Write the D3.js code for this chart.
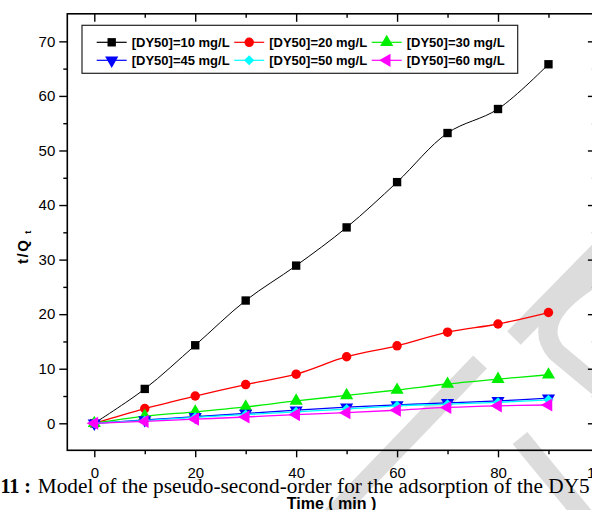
<!DOCTYPE html>
<html>
<head>
<meta charset="utf-8">
<script src="https://cdn.jsdelivr.net/npm/d3@7.8.5/dist/d3.min.js"></script>
<style>
  body { margin: 0; background: #fff; }
  #chart { width: 592px; height: 510px; overflow: hidden; }
  svg { display: block; }
</style>
</head>
<body>
<div id="chart"></div>
<script>
// time (min)
const times = [0, 10, 20, 30, 40, 50, 60, 70, 80, 90];
// t/Qt for each initial dye concentration
const c10 = [0, 6.3, 14.3, 22.5, 28.9, 35.9, 44.2, 53.2, 57.6, 65.8];
const c20 = [0, 2.7, 5.0, 7.1, 9.0, 12.2, 14.2, 16.7, 18.2, 20.3];
const c30 = [0, 1.3, 2.1, 3.0, 4.1, 5.1, 6.1, 7.2, 8.1, 8.9];
const c45 = [0, 0.6, 1.2, 1.8, 2.4, 2.95, 3.35, 3.75, 4.1, 4.6];
const c50 = [0, 0.5, 1.1, 1.6, 2.1, 2.6, 3.2, 3.5, 3.85, 4.3];
const c60 = [0, 0.35, 0.75, 1.15, 1.6, 1.95, 2.4, 2.9, 3.2, 3.35];

const seriesNames = ['[DY50]=10 mg/L', '[DY50]=20 mg/L', '[DY50]=30 mg/L',
                     '[DY50]=45 mg/L', '[DY50]=50 mg/L', '[DY50]=60 mg/L'];
const seriesValues = [c10, c20, c30, c45, c50, c60];
const seriesColors = ['#000000', '#ff0000', '#00ee00', '#0000ff', '#00ffff', '#ff00ff'];

const xMajor = [0, 20, 40, 60, 80, 100];
const xMinor = [10, 30, 50, 70, 90];
const yMajor = [0, 10, 20, 30, 40, 50, 60, 70];
const yMinor = [5, 15, 25, 35, 45, 55, 65];

const width = 592, height = 510;
const svg = d3.select('#chart').append('svg')
    .attr('width', width)
    .attr('height', height);

const x = d3.scaleLinear().domain([-5.35, 99.4]).range([67.3, 595.9]);
const y = d3.scaleLinear().domain([-4.95, 75.05]).range([450.3, 13.8]);

// watermark behind everything (light grey strokes of the page)
const wm = svg.append('g')
    .attr('fill', 'none')
    .attr('stroke', '#dcdcdc')
    .attr('stroke-width', 19);
wm.append('path').attr('d', 'M604,246 L514,338');
wm.append('path').attr('d', 'M596,276 Q528,318 556,352 L604,392');
wm.append('path').attr('d', 'M480,362 L332,516');
wm.append('path').attr('d', 'M520,438 L584,516');

const axisFont = 'Arial, "Liberation Sans", sans-serif';

// frame
svg.append('rect')
    .attr('x', x.range()[0])
    .attr('y', y.range()[1])
    .attr('width', x.range()[1] - x.range()[0])
    .attr('height', y.range()[0] - y.range()[1])
    .attr('fill', 'none')
    .attr('stroke', '#000')
    .attr('stroke-width', 1.6);

function tickAxis(axis, transform, labels) {
    const g = svg.append('g').attr('transform', transform).call(axis);
    g.select('.domain').remove();
    g.selectAll('line').attr('stroke', '#000').attr('stroke-width', 1.4);
    if (!labels) g.selectAll('text').remove();
    return g;
}

// bottom (outward) and top (inward)
const xb = tickAxis(d3.axisBottom(x).tickValues(xMajor).tickSize(7).tickPadding(10), `translate(0,${y.range()[0]})`, true);
xb.selectAll('text').attr('font-family', axisFont).attr('font-size', 15).attr('fill', '#000');
tickAxis(d3.axisBottom(x).tickValues(xMinor).tickSize(4), `translate(0,${y.range()[0]})`, false);
tickAxis(d3.axisTop(x).tickValues(xMajor).tickSize(-8), `translate(0,${y.range()[1]})`, false);
tickAxis(d3.axisTop(x).tickValues(xMinor).tickSize(-4), `translate(0,${y.range()[1]})`, false);

// left (outward) and right (inward)
const yl = tickAxis(d3.axisLeft(y).tickValues(yMajor).tickSize(8).tickPadding(4), `translate(${x.range()[0]},0)`, true);
yl.selectAll('text').attr('font-family', axisFont).attr('font-size', 15).attr('fill', '#000');
tickAxis(d3.axisLeft(y).tickValues(yMinor).tickSize(4), `translate(${x.range()[0]},0)`, false);
tickAxis(d3.axisRight(y).tickValues(yMajor).tickSize(-8), `translate(${x.range()[1]},0)`, false);
tickAxis(d3.axisRight(y).tickValues(yMinor).tickSize(-4), `translate(${x.range()[1]},0)`, false);

// markers
const markers = [
    { type: d3.symbolSquare, size: 70, rotate: 0 },
    { type: d3.symbolCircle, size: 70, rotate: 0 },
    { type: d3.symbolTriangle, size: 75, rotate: 0 },
    { type: d3.symbolTriangle, size: 75, rotate: 180 },
    { type: d3.symbolSquare, size: 50, rotate: 45 },
    { type: d3.symbolTriangle, size: 75, rotate: -90 }
];

const line = d3.line()
    .x(d => x(d.t))
    .y(d => y(d.v))
    .curve(d3.curveCatmullRom.alpha(0.5));

const plot = svg.append('g');
seriesValues.forEach((vals, i) => {
    const pts = times.map((t, j) => ({ t: t, v: vals[j] }));
    const g = plot.append('g');
    g.append('path')
        .datum(pts)
        .attr('d', line)
        .attr('fill', 'none')
        .attr('stroke', seriesColors[i])
        .attr('stroke-width', i === 0 ? 1 : 1.3);
    g.selectAll('path.pt')
        .data(pts)
        .enter()
        .append('path')
        .attr('class', 'pt')
        .attr('d', d3.symbol().type(markers[i].type).size(markers[i].size))
        .attr('transform', d => `translate(${x(d.t)},${y(d.v)}) rotate(${markers[i].rotate})`)
        .attr('fill', seriesColors[i]);
});

// legend
const legend = svg.append('g');
legend.append('rect')
    .attr('x', 82).attr('y', 25.3)
    .attr('width', 435.7).attr('height', 48)
    .attr('fill', '#fff')
    .attr('stroke', '#222')
    .attr('stroke-width', 1.2);

seriesNames.forEach((name, i) => {
    const col = i % 3, row = Math.floor(i / 3);
    const lx = 96.7 + col * 137.5;
    const ly = 42.3 + row * 18;
    const item = legend.append('g').attr('transform', `translate(${lx},${ly})`);
    item.append('line')
        .attr('x1', 0).attr('x2', 30)
        .attr('y1', 0).attr('y2', 0)
        .attr('stroke', seriesColors[i])
        .attr('stroke-width', 1.2);
    item.append('path')
        .attr('d', d3.symbol().type(markers[i].type).size(markers[i].size))
        .attr('transform', `translate(15,0) rotate(${markers[i].rotate})`)
        .attr('fill', seriesColors[i]);
    item.append('text')
        .attr('x', 35)
        .attr('y', 4.6)
        .attr('font-family', axisFont)
        .attr('font-weight', 'bold')
        .attr('font-size', 13)
        .attr('fill', '#000')
        .text(name);
});

// axis titles
const yTitle = svg.append('text')
    .attr('transform', 'translate(28,264) rotate(-90)')
    .attr('font-family', axisFont)
    .attr('font-weight', 'bold')
    .attr('font-size', 15)
    .attr('letter-spacing', 1.5)
    .attr('fill', '#000');
yTitle.append('tspan').text('t/Q');
yTitle.append('tspan').attr('dx', 5).attr('dy', 3).attr('font-size', 9).text('t');

// caption of the page (drawn under the x title)
svg.append('text')
    .attr('x', 31)
    .attr('y', 493.3)
    .attr('text-anchor', 'end')
    .attr('font-family', '"Liberation Serif", "Times New Roman", serif')
    .attr('font-weight', 'bold')
    .attr('font-size', 20)
    .attr('fill', '#000')
    .text('11 :');
svg.append('text')
    .attr('x', 37.7)
    .attr('y', 493.3)
    .attr('font-family', '"Liberation Serif", "Times New Roman", serif')
    .attr('font-size', 20)
    .attr('textLength', 552)
    .attr('lengthAdjust', 'spacingAndGlyphs')
    .attr('fill', '#000')
    .text('Model of the pseudo-second-order for the adsorption of the DY5');

svg.append('text')
    .attr('x', (x.range()[0] + x.range()[1]) / 2)
    .attr('y', 509)
    .attr('text-anchor', 'middle')
    .attr('font-family', axisFont)
    .attr('font-weight', 'bold')
    .attr('font-size', 16)
    .attr('fill', '#000')
    .text('Time ( min )');
</script>
</body>
</html>
